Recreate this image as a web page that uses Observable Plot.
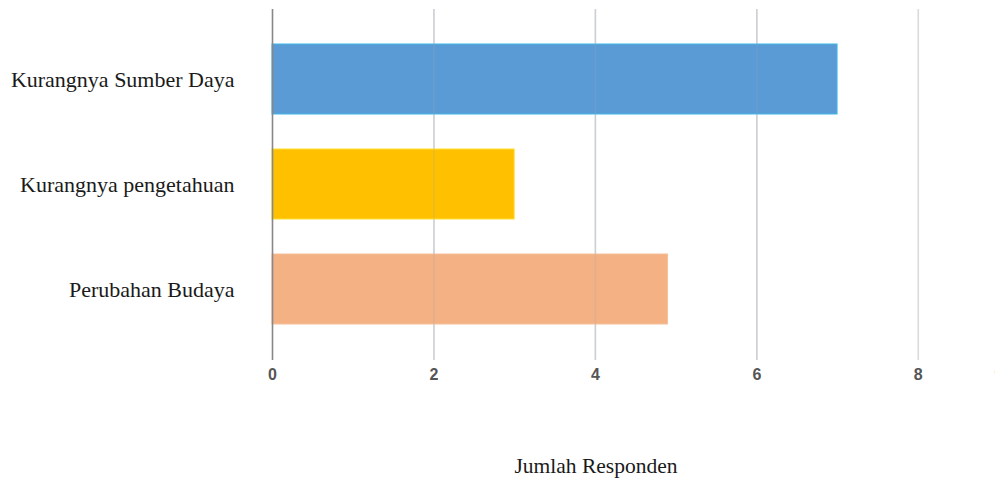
<!DOCTYPE html>
<html>
<head>
<meta charset="utf-8">
<script src="https://cdn.jsdelivr.net/npm/d3@7"></script>
<script src="https://cdn.jsdelivr.net/npm/@observablehq/plot@0.6"></script>
<style>
  html, body { margin: 0; padding: 0; background: #fff; overflow: hidden; }
</style>
</head>
<body>
<div id="chart"></div>
<script>
const categories = ["Kurangnya Sumber Daya", "Kurangnya pengetahuan", "Perubahan Budaya"];
const values = [7, 3, 4.9];
const colors = ["#5B9BD5", "#FFC000", "#F4B183"];
const borders = ["#3FB8E8", "#FFE033", "#F4C09A"];
const xTicks = [0, 2, 4, 6, 8, 9];
const gridTicks = [2, 4, 6, 8];
const xLabel = "Jumlah Responden";

const data = categories.map((c, i) => ({category: c, value: values[i], fill: colors[i], stroke: borders[i]}));

const chart = Plot.plot({
  width: 995,
  height: 480,
  marginLeft: 272,
  marginRight: 0,
  marginTop: 9,
  marginBottom: 120,
  x: {domain: [0, 9], range: [272, 998.5]},
  y: {domain: categories, padding: 0.33},
  style: {background: "#fff", overflow: "hidden"},
  marks: [
    Plot.ruleX(gridTicks, {stroke: "#dadada", strokeWidth: 1.6}),
    Plot.barX(data, {x: "value", y: "category", fill: "fill", stroke: "stroke", strokeWidth: 1}),
    Plot.ruleX(gridTicks.filter(t => t <= 7), {stroke: "#9aa6b4", strokeOpacity: 0.22, strokeWidth: 1.5}),
    Plot.ruleX([0], {stroke: "#888", strokeWidth: 1.6}),
    Plot.axisX(xTicks, {tickSize: 0, tickPadding: 8, fontSize: 16, fill: "#555", fontFamily: "Liberation Sans, Arial, sans-serif", fontWeight: "bold", label: null}),
    Plot.axisY({tickSize: 0, tickPadding: 38, fontSize: 22, fill: "#1a1a1a", fontFamily: "Liberation Serif, Times New Roman, serif", label: null}),
    Plot.text([xLabel], {frameAnchor: "bottom", dy: 112, dx: -38, fontSize: 21.5, fill: "#1a1a1a", fontFamily: "Liberation Serif, Times New Roman, serif"})
  ]
});
document.getElementById("chart").appendChild(chart);
</script>
</body>
</html>
